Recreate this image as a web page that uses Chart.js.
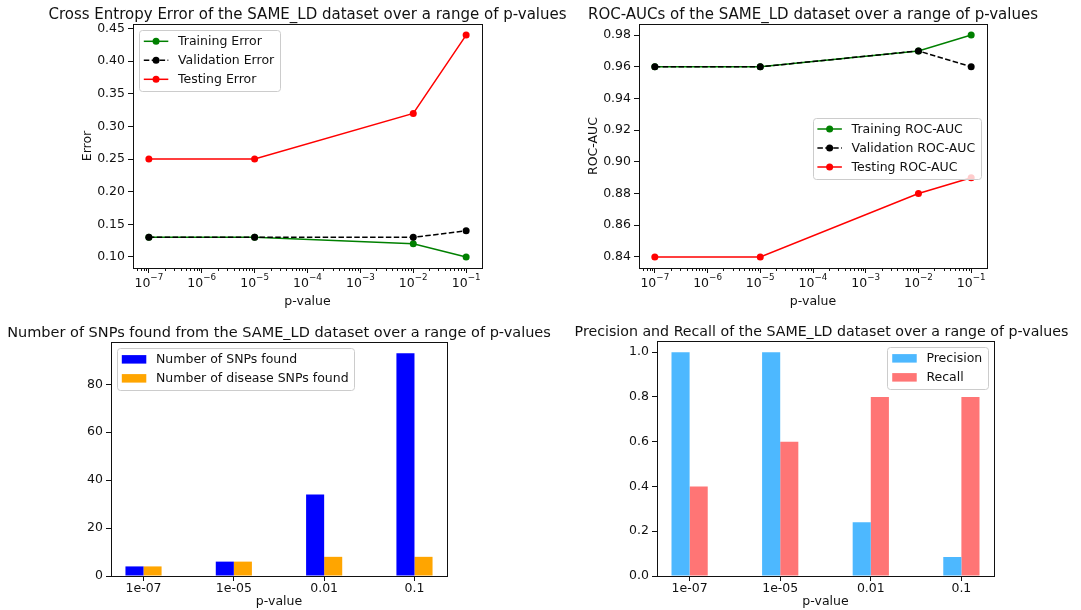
<!DOCTYPE html>
<html>
<head>
<meta charset="utf-8">
<script src="https://cdn.jsdelivr.net/npm/chart.js@4.4.0/dist/chart.umd.min.js"></script>
<style>
  body { margin: 0; background: #fff; }
  #wrap { position: relative; width: 1081px; height: 610px; }
  canvas { position: absolute; left: 0; top: 0; }
</style>
</head>
<body>
<div id="wrap">
  <canvas id="errChart" width="1081" height="610"></canvas>
  <canvas id="aucChart" width="1081" height="610"></canvas>
  <canvas id="snpChart" width="1081" height="610"></canvas>
  <canvas id="prChart" width="1081" height="610"></canvas>
</div>
<script>
// datos
const pValues = [1e-7, 1e-5, 1e-2, 1e-1];
const pLabels = ["1e-07", "1e-05", "0.01", "0.1"];

const trainErr = [0.13, 0.13, 0.12, 0.10];
const valErr = [0.13, 0.13, 0.13, 0.14];
const testErr = [0.25, 0.25, 0.32, 0.44];

const trainAuc = [0.96, 0.96, 0.97, 0.98];
const valAuc = [0.96, 0.96, 0.97, 0.96];
const testAuc = [0.84, 0.84, 0.88, 0.89];

const snpsFound = [4, 6, 34, 93];
const diseaseSnps = [4, 6, 8, 8];

const precision = [1.0, 1.0, 0.24, 0.085];
const recall = [0.4, 0.6, 0.8, 0.8];

const logTicks = [1e-7, 1e-6, 1e-5, 1e-4, 1e-3, 1e-2, 1e-1];
const errTicks = [0.10, 0.15, 0.20, 0.25, 0.30, 0.35, 0.40, 0.45];
const aucTicks = [0.84, 0.86, 0.88, 0.90, 0.92, 0.94, 0.96, 0.98];
const snpTicks = [0, 20, 40, 60, 80];
const prTicks = [0, 0.2, 0.4, 0.6, 0.8, 1.0];

const INK = "#111111";
const FONT = "'DejaVu Sans'";
const FS = 12.5;      // texto de ticks, ejes y leyenda
const H = 610;

Chart.defaults.font.family = FONT;
Chart.defaults.font.size = FS;
Chart.defaults.color = INK;

const pts = (xs, ys) => xs.map((x, i) => ({ x: x, y: ys[i] }));

// leyenda estilo matplotlib dentro del area del grafico
function drawLegend(chart, loc) {
  const { ctx, chartArea: a } = chart;
  const rowH = 13, pad = 4.8, gap = 6, hl = 24.5, htp = 9.7, axpad = 6;
  const ds = chart.data.datasets;
  ctx.font = FS + "px " + FONT;
  const tw = Math.max(...ds.map(d => ctx.measureText(d.label).width));
  const w = pad * 2 + hl + htp + tw + 1;
  const h = pad * 2 + ds.length * rowH + (ds.length - 1) * gap;
  let x, y;
  if (loc === "upper left") { x = a.left + axpad; y = a.top + axpad; }
  else if (loc === "upper right") { x = a.right - axpad - w; y = a.top + axpad; }
  else { x = a.right - axpad - w; y = (a.top + a.bottom) / 2 - h / 2 + 2; }

  ctx.beginPath();
  ctx.roundRect(Math.round(x) + 0.5, Math.round(y) + 0.5, Math.round(w), Math.round(h), 3);
  ctx.fillStyle = "rgba(255,255,255,0.8)";
  ctx.fill();
  ctx.strokeStyle = "#cccccc";
  ctx.lineWidth = 1;
  ctx.stroke();

  ds.forEach((d, i) => {
    const cy = y + pad + i * (rowH + gap) + rowH / 2;
    const hx = x + pad;
    if (chart.config.type === "bar") {
      ctx.fillStyle = d.backgroundColor;
      ctx.fillRect(hx, cy - 4.2, hl, 8.5);
    } else {
      ctx.strokeStyle = d.borderColor;
      ctx.lineWidth = 1.5;
      ctx.setLineDash(d.borderDash || []);
      ctx.beginPath();
      ctx.moveTo(hx, cy);
      ctx.lineTo(hx + hl, cy);
      ctx.stroke();
      ctx.setLineDash([]);
      ctx.fillStyle = d.borderColor;
      ctx.beginPath();
      ctx.arc(hx + hl / 2, cy, 3.5, 0, Math.PI * 2);
      ctx.fill();
    }
    ctx.fillStyle = INK;
    ctx.textAlign = "left";
    ctx.textBaseline = "middle";
    ctx.fillText(d.label, hx + hl + htp, cy + 0.5);
  });
}

// etiquetas 10^n con exponente en superindice
function drawLogLabels(chart) {
  const { ctx, chartArea: a, scales } = chart;
  const expFs = FS * 0.7;
  scales.x.ticks.forEach(t => {
    const e = Math.round(Math.log10(t.value));
    const base = "10", ex = "\u2212" + String(Math.abs(e));
    ctx.font = FS + "px " + FONT;
    const bw = ctx.measureText(base).width;
    ctx.font = expFs + "px " + FONT;
    const ew = ctx.measureText(ex).width;
    const x0 = scales.x.getPixelForValue(t.value) - (bw + ew) / 2;
    ctx.textAlign = "left";
    ctx.textBaseline = "alphabetic";
    ctx.font = FS + "px " + FONT;
    ctx.fillText(base, x0, a.bottom + 18.5);
    ctx.font = expFs + "px " + FONT;
    ctx.fillText(ex, x0 + bw, a.bottom + 11.5);
  });
}

const mplPlugin = {
  id: "mpl",
  afterDraw(chart, args, opts) {
    const { ctx, chartArea: a, scales } = chart;
    ctx.save();

    // ticks menores del eje log
    if (scales.x.type === "logarithmic") {
      ctx.strokeStyle = INK;
      ctx.lineWidth = 1;
      for (let e = -8; e <= 0; e++) {
        for (let k = 2; k <= 9; k++) {
          const v = k * Math.pow(10, e);
          if (v < scales.x.min || v > scales.x.max) continue;
          const px = Math.round(scales.x.getPixelForValue(v)) + 0.5;
          ctx.beginPath();
          ctx.moveTo(px, a.bottom);
          ctx.lineTo(px, a.bottom + 3);
          ctx.stroke();
        }
      }
      ctx.fillStyle = INK;
      drawLogLabels(chart);
    }

    // marco
    ctx.strokeStyle = INK;
    ctx.lineWidth = 1;
    ctx.strokeRect(Math.round(a.left) + 0.5, Math.round(a.top) + 0.5,
      Math.round(a.right - a.left), Math.round(a.bottom - a.top));

    const cx = (a.left + a.right) / 2;
    const cy = (a.top + a.bottom) / 2;
    ctx.fillStyle = INK;
    ctx.textAlign = "center";

    ctx.font = opts.titleSize + "px " + FONT;
    ctx.textBaseline = "alphabetic";
    ctx.fillText(opts.title, cx + (opts.titleShift || 0), a.top - 5);

    ctx.font = FS + "px " + FONT;
    ctx.textBaseline = "middle";
    ctx.fillText(opts.xlabel, cx, a.bottom + opts.xlabelGap);

    if (opts.ylabel) {
      ctx.save();
      ctx.translate(a.left - 45, cy);
      ctx.rotate(-Math.PI / 2);
      ctx.fillText(opts.ylabel, 0, 0);
      ctx.restore();
    }

    drawLegend(chart, opts.legendLoc);
    ctx.restore();
  }
};

function yScale(left, min, max, ticks, dec) {
  return {
    min: min, max: max,
    afterBuildTicks: s => { s.ticks = ticks.map(v => ({ value: v })); },
    afterFit: s => { s.width = left; },
    grid: { drawOnChartArea: false, color: INK, tickLength: 5 },
    border: { display: false },
    ticks: { callback: v => v.toFixed(dec), padding: 3, color: INK }
  };
}

function logX(bottom) {
  return {
    type: "logarithmic", bounds: "data",
    min: Math.pow(10, -7.3), max: Math.pow(10, -0.7),
    afterBuildTicks: s => { s.ticks = logTicks.map(v => ({ value: v })); },
    afterFit: s => { s.height = H - bottom; },
    grid: { drawOnChartArea: false, color: INK, tickLength: 5 },
    border: { display: false },
    ticks: { callback: () => "", maxRotation: 0, autoSkip: false, padding: 0 }
  };
}

function catX(bottom) {
  return {
    type: "linear", offset: false, bounds: "data",
    min: -0.36, max: 3.36,
    afterBuildTicks: s => { s.ticks = pLabels.map((l, i) => ({ value: i })); },
    afterFit: s => { s.height = H - bottom; },
    grid: { drawOnChartArea: false, offset: false, color: INK, tickLength: 5 },
    border: { display: false },
    ticks: { callback: v => pLabels[v], maxRotation: 0, autoSkip: false, padding: 0, color: INK }
  };
}

function lineSet(label, xs, ys, color, dash, order) {
  return {
    label: label, data: pts(xs, ys), borderColor: color, backgroundColor: color,
    borderWidth: 1.5, borderDash: dash, pointRadius: 3.5, pointBorderWidth: 0,
    pointBackgroundColor: color, tension: 0, order: order
  };
}

const base = { responsive: false, animation: false, events: [] };

new Chart(document.getElementById("errChart"), {
  type: "line",
  data: {
    datasets: [
      lineSet("Training Error", pValues, trainErr, "#008000", [], 3),
      lineSet("Validation Error", pValues, valErr, "#000000", [5.5, 2.4], 2),
      lineSet("Testing Error", pValues, testErr, "#ff0000", [], 1)
    ]
  },
  options: Object.assign({}, base, {
    layout: { padding: { left: 0, top: 24, right: 1081 - 482, bottom: 0 } },
    scales: { x: logX(268), y: yScale(133, 0.083, 0.457, errTicks, 2) },
    plugins: {
      legend: { display: false }, tooltip: { enabled: false },
      mpl: { title: "Cross Entropy Error of the SAME_LD dataset over a range of p-values", titleSize: 15,
        xlabel: "p-value", xlabelGap: 34, ylabel: "Error", legendLoc: "upper left" }
    }
  }),
  plugins: [mplPlugin]
});

new Chart(document.getElementById("aucChart"), {
  type: "line",
  data: {
    datasets: [
      lineSet("Training ROC-AUC", pValues, trainAuc, "#008000", [], 3),
      lineSet("Validation ROC-AUC", pValues, valAuc, "#000000", [5.5, 2.4], 2),
      lineSet("Testing ROC-AUC", pValues, testAuc, "#ff0000", [], 1)
    ]
  },
  options: Object.assign({}, base, {
    layout: { padding: { left: 0, top: 24, right: 1081 - 987, bottom: 0 } },
    scales: { x: logX(268), y: yScale(639, 0.833, 0.987, aucTicks, 2) },
    plugins: {
      legend: { display: false }, tooltip: { enabled: false },
      mpl: { title: "ROC-AUCs of the SAME_LD dataset over a range of p-values", titleSize: 15,
        xlabel: "p-value", xlabelGap: 34, ylabel: "ROC-AUC", legendLoc: "center right" }
    }
  }),
  plugins: [mplPlugin]
});

new Chart(document.getElementById("snpChart"), {
  type: "bar",
  data: {
    datasets: [
      { label: "Number of SNPs found", data: pts([0, 1, 2, 3], snpsFound), backgroundColor: "#0000ff" },
      { label: "Number of disease SNPs found", data: pts([0, 1, 2, 3], diseaseSnps), backgroundColor: "#ffa500" }
    ]
  },
  options: Object.assign({}, base, {
    layout: { padding: { left: 0, top: 342, right: 1081 - 447, bottom: 0 } },
    datasets: { bar: { categoryPercentage: 0.4, barPercentage: 1, borderWidth: 0 } },
    scales: { x: catX(576), y: yScale(111, 0, 97.65, snpTicks, 0) },
    plugins: {
      legend: { display: false }, tooltip: { enabled: false },
      mpl: { title: "Number of SNPs found from the SAME_LD dataset over a range of p-values", titleSize: 14.5,
        xlabel: "p-value", xlabelGap: 26, ylabel: "", legendLoc: "upper left" }
    }
  }),
  plugins: [mplPlugin]
});

new Chart(document.getElementById("prChart"), {
  type: "bar",
  data: {
    datasets: [
      { label: "Precision", data: pts([0, 1, 2, 3], precision), backgroundColor: "#4db8ff" },
      { label: "Recall", data: pts([0, 1, 2, 3], recall), backgroundColor: "#ff7575" }
    ]
  },
  options: Object.assign({}, base, {
    layout: { padding: { left: 0, top: 341, right: 1081 - 994, bottom: 0 } },
    datasets: { bar: { categoryPercentage: 0.4, barPercentage: 1, borderWidth: 0 } },
    scales: { x: catX(576), y: yScale(657, 0, 1.05, prTicks, 1) },
    plugins: {
      legend: { display: false }, tooltip: { enabled: false },
      mpl: { title: "Precision and Recall of the SAME_LD dataset over a range of p-values", titleSize: 14.2,
        titleShift: -4, xlabel: "p-value", xlabelGap: 26, ylabel: "", legendLoc: "upper right" }
    }
  }),
  plugins: [mplPlugin]
});
</script>
</body>
</html>
